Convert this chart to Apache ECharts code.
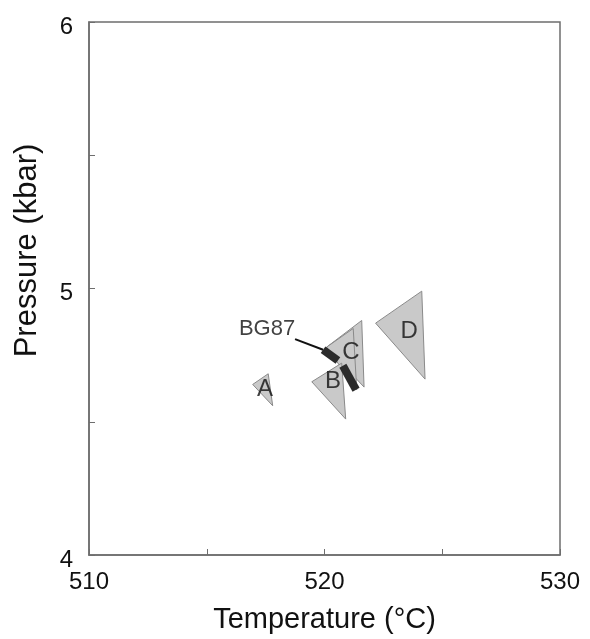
<!DOCTYPE html>
<html>
<head>
<meta charset="utf-8">
<script src="https://cdn.jsdelivr.net/npm/echarts@6/dist/echarts.min.js"></script>
<style>
  html, body { margin: 0; padding: 0; background: #fff; }
  #chart { width: 590px; height: 639px; }
</style>
</head>
<body>
<div id="chart"></div>
<script>
// triangles, vertices as [temperature, pressure]
var triD  = [[522.17, 4.87], [524.13, 4.99], [524.27, 4.66]];
var triC2 = [[520.09, 4.78], [521.58, 4.88], [521.68, 4.63]];
var triC1 = [[520.09, 4.78], [521.22, 4.85], [521.37, 4.62]];
var triB  = [[519.46, 4.65], [520.73, 4.72], [520.90, 4.51]];
var triA  = [[516.95, 4.64], [517.61, 4.68], [517.80, 4.56]];

// BG87 dark segments and its leader line
var bg87Segs = [
  [[519.94, 4.77], [520.57, 4.73]],
  [[520.78, 4.71], [521.34, 4.62]]
];
var leader = [[518.75, 4.81], [519.94, 4.77]];

// labels
var triLabels = [
  { name: 'A', value: [517.47, 4.62] },
  { name: 'B', value: [520.36, 4.65] },
  { name: 'C', value: [521.12, 4.76] },
  { name: 'D', value: [523.59, 4.84] }
];
var bgLabel = [{ name: 'BG87', value: [517.56, 4.85] }];

var xTicks = [510, 520, 530];
var yTicks = [4, 5, 6];

var triangles = [triD, triC2, triC1, triB, triA];

var chart = echarts.init(document.getElementById('chart'));

var option = {
  animation: false,
  backgroundColor: '#fff',
  grid: {
    left: 89, right: 30, top: 22, bottom: 83,
    show: true, borderColor: '#6e6e6e', borderWidth: 1.5
  },
  xAxis: {
    type: 'value', min: 510, max: 530, interval: 5,
    name: 'Temperature (°C)', nameLocation: 'middle', nameGap: 50,
    nameTextStyle: { fontFamily: 'Liberation Sans', fontSize: 29, color: '#111' },
    axisLine: { lineStyle: { color: '#6e6e6e', width: 1.5 } },
    axisTick: { inside: true, length: 6, lineStyle: { color: '#6e6e6e' } },
    splitLine: { show: false },
    axisLabel: {
      margin: 15, fontFamily: 'Liberation Sans', fontSize: 24, color: '#111',
      formatter: function (v) { return xTicks.indexOf(v) >= 0 ? String(v) : ''; }
    }
  },
  yAxis: {
    type: 'value', min: 4, max: 6, interval: 0.5,
    name: 'Pressure (kbar)', nameLocation: 'middle', nameGap: 46,
    nameTextStyle: { fontFamily: 'Liberation Sans', fontSize: 31, color: '#111', padding: [0, 0, 0, 76] },
    axisLine: { lineStyle: { color: '#6e6e6e', width: 1.5 } },
    axisTick: { inside: true, length: 6, lineStyle: { color: '#6e6e6e' } },
    splitLine: { show: false },
    axisLabel: {
      margin: 16,
      formatter: function (v) { return yTicks.indexOf(v) >= 0 ? '{n|' + v + '}' : ''; },
      rich: {
        n: { fontFamily: 'Liberation Sans', fontSize: 24, color: '#111', padding: [10, 0, 0, 0] }
      }
    }
  },
  series: [
    {
      type: 'custom',
      name: 'triangles',
      data: triangles.map(function (t) { return [t[0][0], t[0][1], t[1][0], t[1][1], t[2][0], t[2][1]]; }),
      renderItem: function (params, api) {
        var pts = [];
        for (var i = 0; i < 3; i++) {
          pts.push(api.coord([api.value(i * 2), api.value(i * 2 + 1)]));
        }
        return {
          type: 'polygon',
          shape: { points: pts },
          style: { fill: '#c9c9c9', stroke: '#8a8a8a', lineWidth: 1 }
        };
      }
    },
    {
      type: 'custom',
      name: 'BG87',
      data: bg87Segs.map(function (s) { return [s[0][0], s[0][1], s[1][0], s[1][1]]; }),
      renderItem: function (params, api) {
        var a = api.coord([api.value(0), api.value(1)]);
        var b = api.coord([api.value(2), api.value(3)]);
        return {
          type: 'line',
          shape: { x1: a[0], y1: a[1], x2: b[0], y2: b[1] },
          style: { stroke: '#2b2b2b', lineWidth: 8, lineCap: 'butt' }
        };
      }
    },
    {
      type: 'line',
      data: leader,
      symbol: 'none',
      lineStyle: { color: '#111', width: 2 }
    },
    {
      type: 'scatter',
      data: triLabels,
      symbolSize: 0,
      label: {
        show: true, position: 'inside', formatter: '{b}',
        fontFamily: 'Liberation Sans', fontSize: 24, color: '#111'
      }
    },
    {
      type: 'scatter',
      data: bgLabel,
      symbolSize: 0,
      label: {
        show: true, position: 'inside', formatter: '{b}',
        fontFamily: 'Liberation Sans', fontSize: 22, color: '#111'
      }
    }
  ]
};

chart.setOption(option);
</script>
</body>
</html>
